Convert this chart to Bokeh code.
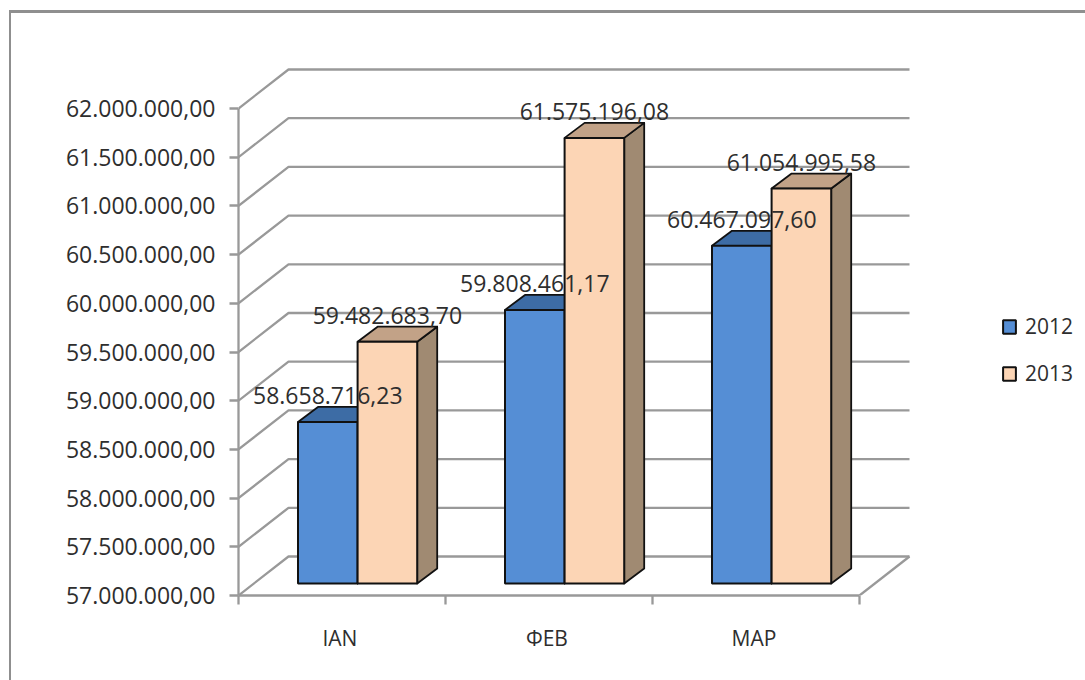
from bokeh.embed import file_html
from bokeh.resources import INLINE
from bokeh.core.properties import value
from bokeh.models import (ColumnDataSource, FixedTicker, Legend, LegendItem,
                          LinearAxis, Range1d)
from bokeh.plotting import figure

categories = ["IAN", "ФЕВ", "МАР"]
series_2012 = [58658716.23, 59808461.17, 60467097.60]
series_2013 = [59482683.70, 61575196.08, 61054995.58]
labels_2012 = ["58.658.716,23", "59.808.461,17", "60.467.097,60"]
labels_2013 = ["59.482.683,70", "61.575.196,08", "61.054.995,58"]
y_ticks = [57000000, 57500000, 58000000, 58500000, 59000000, 59500000, 60000000,
           60500000, 61000000, 61500000, 62000000]
y_tick_labels = ["57.000.000,00", "57.500.000,00", "58.000.000,00", "58.500.000,00",
                 "59.000.000,00", "59.500.000,00", "60.000.000,00", "60.500.000,00",
                 "61.000.000,00", "61.500.000,00", "62.000.000,00"]

FONT = "Open Sans"
TEXT = "#2e2e2e"
GRID = "#999999"
OX, OY = 11, 13                       # where the figure's canvas starts on the page
W, H = 1074, 667
L, R, T, B = 238, 1082, 60, 595       # frame edges in page pixels
PX_X = 207.0                          # pixels per category
PX_Y = 97.4 / 1e6                     # pixels per value unit
WALL_X, WALL_Y = 50 / PX_X, 39 / PX_Y # depth of the 3D box
PLANE_Y = 12 / PX_Y                   # bars stand a little behind the axis plane
DEPTH_X, DEPTH_Y = 20 / PX_X, 15 / PX_Y
BAR_W = 59.6 / PX_X
BAR_LEFT = 59.5 / PX_X
Y0 = y_ticks[0]

p = figure(width=W, height=H, output_backend="svg", toolbar_location=None,
           x_axis_type=None, y_axis_type=None,
           x_range=Range1d(0, (R - L) / PX_X), y_range=Range1d(Y0, Y0 + (B - T) / PX_Y),
           frame_width=R - L, frame_height=B - T,
           min_border_left=L - OX, min_border_top=T - OY,
           min_border_right=W - (R - OX), min_border_bottom=H - (B - OY))
p.outline_line_color = None
p.grid.visible = False
p.background_fill_color = "white"
p.border_fill_color = "white"

# outer chart-area border
p.styles = {"margin-left": "9px", "margin-top": "10px",
            "border-left": "2px solid #8f8f8f", "border-top": "3px solid #8f8f8f"}

# value axis
yax = LinearAxis(ticker=FixedTicker(ticks=y_ticks), bounds=(y_ticks[0], y_ticks[-1]))
yax.major_label_overrides = dict(zip(y_ticks, y_tick_labels))
yax.major_label_text_font = FONT
yax.major_label_text_font_size = "23px"
yax.major_label_text_color = TEXT
yax.major_label_standoff = 14
yax.axis_line_color = GRID
yax.axis_line_width = 2.3
yax.major_tick_line_color = GRID
yax.major_tick_line_width = 2.3
yax.major_tick_out = 9
yax.major_tick_in = 0
yax.minor_tick_out = 0
yax.minor_tick_in = 0
p.add_layout(yax, "left")

# category axis: tick marks between categories, labels in the middle
n = len(categories)
xax = LinearAxis(ticker=FixedTicker(ticks=[i + 0.49 for i in range(n)],
                                    minor_ticks=list(range(n + 1))), bounds=(0, n))
xax.major_label_overrides = {i + 0.49: c for i, c in enumerate(categories)}
xax.major_label_text_font = FONT
xax.major_label_text_font_size = "21px"
xax.major_label_text_color = TEXT
xax.major_label_standoff = 19
xax.axis_line_color = GRID
xax.axis_line_width = 2.3
xax.major_tick_out = 0
xax.major_tick_in = 0
xax.minor_tick_out = 9
xax.minor_tick_in = 0
xax.minor_tick_line_color = GRID
xax.minor_tick_line_width = 2.3
p.add_layout(xax, "below")

# walls and floor
wall_xs = [[0, WALL_X, n + WALL_X] for _ in y_ticks]
wall_ys = [[t, t + WALL_Y, t + WALL_Y] for t in y_ticks]
wall_xs.append([n, n + WALL_X])
wall_ys.append([Y0, Y0 + WALL_Y])
p.multi_line(wall_xs, wall_ys, line_color=GRID, line_width=2.3)


def bars(values, slot, front, top, side):
    lefts = [i + BAR_LEFT + slot * BAR_W for i in range(n)]
    rights = [x + BAR_W for x in lefts]
    base = Y0 + PLANE_Y
    tops = [v + PLANE_Y for v in values]
    p.patches([[r, r + DEPTH_X, r + DEPTH_X, r] for r in rights],
              [[base, base + DEPTH_Y, t + DEPTH_Y, t] for t in tops],
              fill_color=side, line_color="#111111", line_width=1.8, line_join="round")
    p.patches([[l, l + DEPTH_X, r + DEPTH_X, r] for l, r in zip(lefts, rights)],
              [[t, t + DEPTH_Y, t + DEPTH_Y, t] for t in tops],
              fill_color=top, line_color="#111111", line_width=1.8, line_join="round")
    return p.quad(left=lefts, right=rights, bottom=base, top=tops,
                  fill_color=front, line_color="#111111", line_width=2)


r12 = bars(series_2012, 0, "#558ed5", "#3d6ca5", "#3d6ca5")
r13 = bars(series_2013, 1, "#fcd5b5", "#c2a287", "#a08a72")

# data labels
label_x, label_y, label_text = [], [], []
for slot, (vals, texts) in enumerate(((series_2012, labels_2012), (series_2013, labels_2013))):
    for i, (v, t) in enumerate(zip(vals, texts)):
        label_x.append(i + BAR_LEFT + (slot + 0.5) * BAR_W)
        label_y.append(v)
        label_text.append(t)
src = ColumnDataSource(dict(x=label_x, y=label_y, t=label_text))
p.text("x", "y", text="t", source=src, y_offset=-38,
       text_font=value(FONT), text_font_size=value("23px"), text_color=TEXT,
       text_align="center", text_baseline="middle")

# legend
legend = Legend(items=[LegendItem(label="2012", renderers=[r12]),
                       LegendItem(label="2013", renderers=[r13])],
                location=(1001 - L, 595 - 387), orientation="vertical",
                glyph_width=16, glyph_height=17, label_standoff=8, spacing=19,
                padding=0, margin=0, border_line_color=None, background_fill_alpha=0,
                label_text_font=FONT, label_text_font_size="21px", label_text_color=TEXT,
                label_height=27)
p.add_layout(legend, "center")

open("out.html", "w").write(file_html(p, INLINE))
